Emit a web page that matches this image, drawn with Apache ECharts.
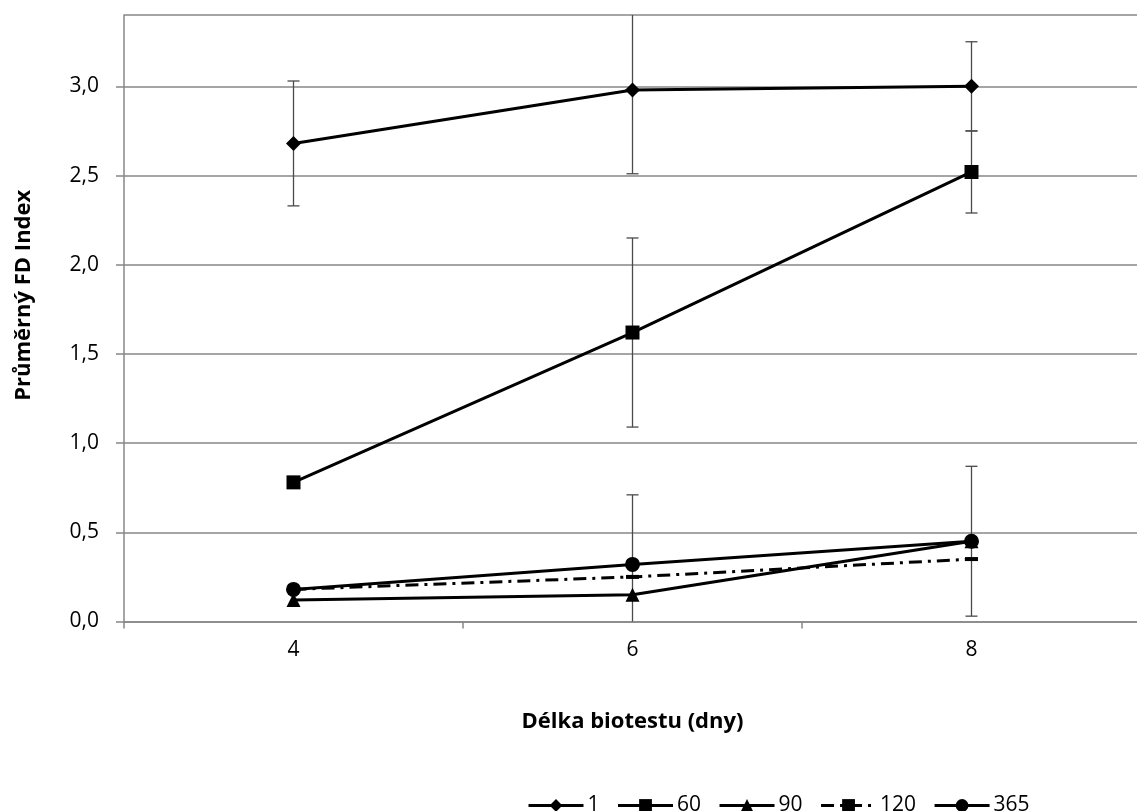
<!DOCTYPE html>
<html><head><meta charset="utf-8">
<script src="https://cdn.jsdelivr.net/npm/echarts@6/dist/echarts.min.js"></script>
<style>html,body{margin:0;padding:0;overflow:hidden;background:#fff}#c{width:1150px;height:811px}</style>
</head><body><div id="c"></div>
<script>
const categories = ['4', '6', '8'];
const seriesNames = ['1', '60', '90', '120', '365'];
const v1 = [2.68, 2.98, 3.00];
const v60 = [0.78, 1.62, 2.52];
const v90 = [0.12, 0.15, 0.45];
const v120 = [0.18, 0.25, 0.35];
const v365 = [0.18, 0.32, 0.45];
const err1 = [0.35, 0.47, 0.25];
const err60 = [0.03, 0.53, 0.23];
const err365 = [0, 0.39, 0.42];
const yTicks = [0, 0.5, 1.0, 1.5, 2.0, 2.5, 3.0];

const YMAX = 3.4;
const FONT = 'Open Sans';

function errData(vals, errs) {
  return vals.map((v, i) => [i, v - errs[i], v + errs[i]]).filter((d, i) => errs[i] > 0);
}
function errSeries(vals, errs) {
  return {
    type: 'custom', z: 1, silent: true,
    data: errData(vals, errs),
    renderItem: function (params, api) {
      const idx = api.value(0);
      let lo = api.value(1), hi = api.value(2);
      const loCap = lo >= 0, hiCap = hi <= YMAX;
      lo = Math.max(lo, 0); hi = Math.min(hi, YMAX);
      const p1 = api.coord([idx, lo]);
      const p2 = api.coord([idx, hi]);
      const st = { stroke: '#4a4a4a', lineWidth: 1.3 };
      const ch = [{ type: 'line', shape: { x1: p1[0], y1: p1[1], x2: p2[0], y2: p2[1] }, style: st }];
      const w = 6;
      if (loCap) ch.push({ type: 'line', shape: { x1: p1[0] - w, y1: p1[1], x2: p1[0] + w, y2: p1[1] }, style: st });
      if (hiCap) ch.push({ type: 'line', shape: { x1: p2[0] - w, y1: p2[1], x2: p2[0] + w, y2: p2[1] }, style: st });
      return { type: 'group', children: ch };
    }
  };
}
function lineSeries(name, data, symbol, size, ls) {
  return {
    name: name, type: 'line', data: data, z: 3,
    symbol: symbol, symbolSize: size, showSymbol: true,
    itemStyle: { color: '#000' },
    lineStyle: Object.assign({ color: '#000', width: 3 }, ls || {}),
    emphasis: { disabled: true }
  };
}

const chart = echarts.init(document.getElementById('c'), null, { renderer: 'canvas' });
chart.setOption({
  animation: false,
  textStyle: { fontFamily: FONT },
  grid: { left: 124, right: 9, top: 15, bottom: 189.5, containLabel: false, outerBoundsMode: 'none' },
  legend: {
    data: seriesNames,
    left: 522, top: 790,
    itemWidth: 55, itemHeight: 16, itemGap: 17,
    lineStyle: { width: 3 },
    textStyle: { fontSize: 21, color: '#000', fontFamily: FONT, padding: [0, 0, 0, -1] },
    selectedMode: false
  },
  xAxis: {
    type: 'category', data: categories, boundaryGap: true,
    name: 'Délka biotestu (dny)', nameLocation: 'middle', nameGap: 89,
    nameTextStyle: { fontSize: 22, fontWeight: 'bold', color: '#000', fontFamily: FONT },
    axisLine: { lineStyle: { color: '#878787', width: 1.5 } },
    axisTick: { show: true, length: 7, lineStyle: { color: '#878787', width: 1.5 } },
    axisLabel: { fontSize: 21, color: '#000', margin: 18, fontFamily: FONT },
    splitLine: { show: false }
  },
  yAxis: {
    type: 'value', min: 0, max: YMAX, interval: 0.5,
    name: 'Průměrný FD Index', nameLocation: 'middle', nameGap: 89,
    nameTextStyle: { fontSize: 22, fontWeight: 'bold', color: '#000', fontFamily: FONT, padding: [0, 0, 0, 46] },
    axisLine: { show: true, lineStyle: { color: '#878787', width: 1.5 } },
    axisTick: { show: true, length: 8, lineStyle: { color: '#878787', width: 1.5 } },
    axisLabel: {
      fontSize: 21, color: '#000', margin: 25, fontFamily: FONT, showMaxLabel: false,
      formatter: function (v) { return yTicks.some(t => Math.abs(t - v) < 1e-9) ? v.toFixed(1).replace('.', ',') : ''; }
    },
    splitLine: { show: true, lineStyle: { color: '#878787', width: 1.5 } }
  },
  series: [
    errSeries(v1, err1),
    errSeries(v60, err60),
    errSeries(v365, err365),
    lineSeries('1', v1, 'diamond', 15),
    lineSeries('60', v60, 'rect', 14),
    lineSeries('90', v90, 'triangle', 14),
    lineSeries('120', v120, 'rect', [13, 4], { width: 3, type: [13, 6, 3, 6] }),
    lineSeries('365', v365, 'circle', 15)
  ]
});
</script></body></html>
